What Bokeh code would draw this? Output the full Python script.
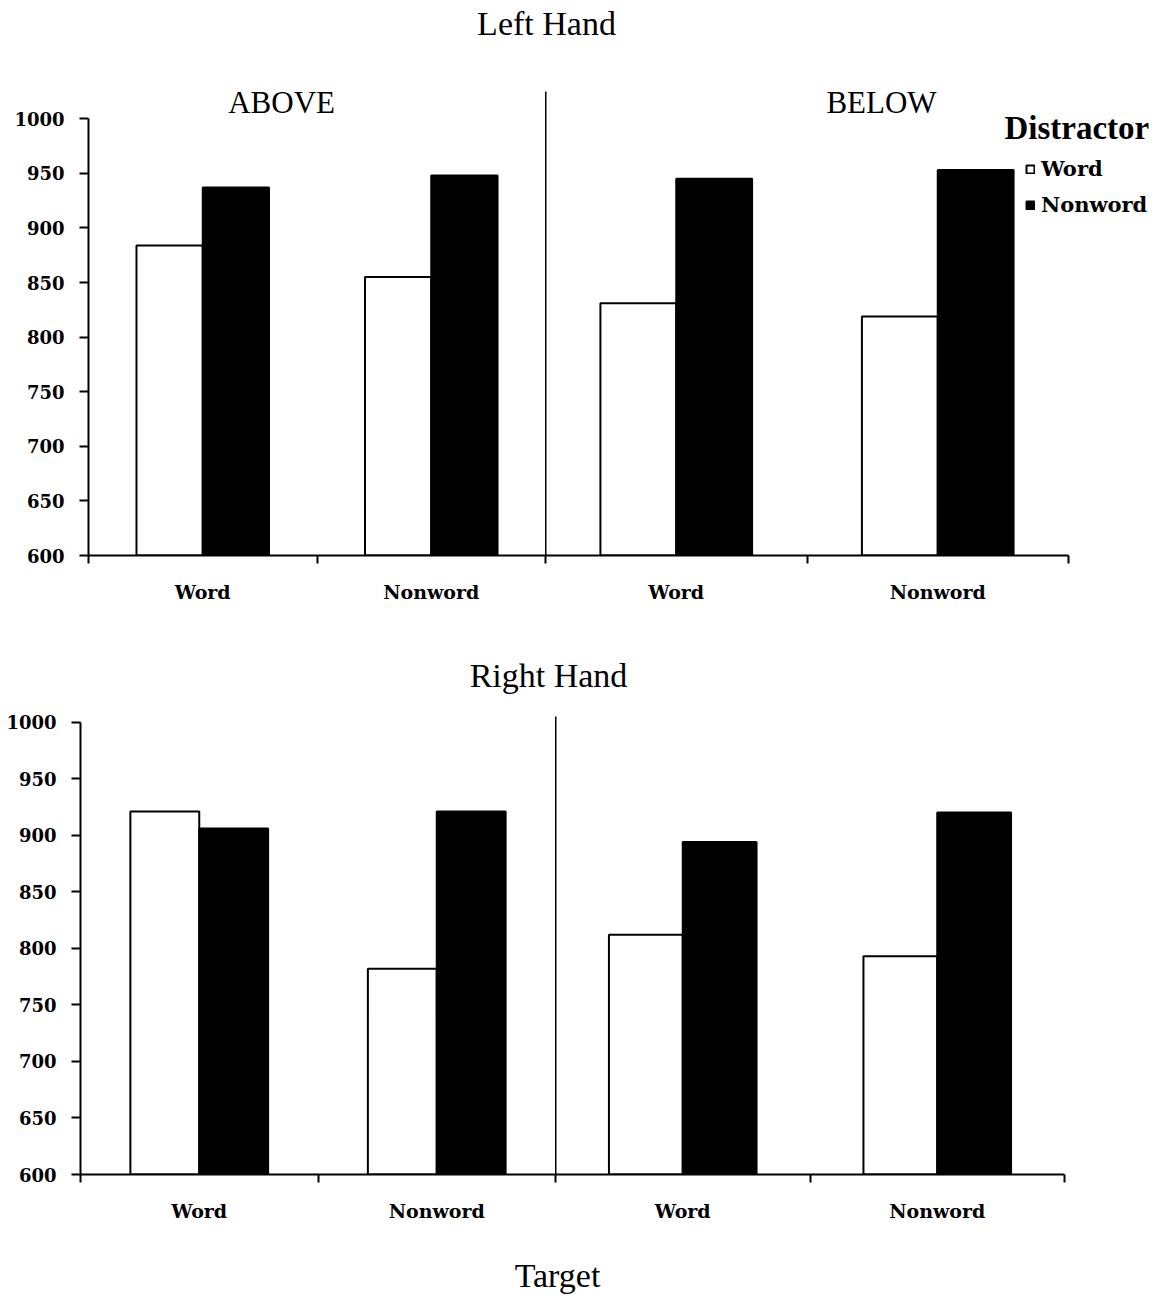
import numpy as np
from bokeh.plotting import figure
from bokeh.models import (Range1d, FixedTicker, ColumnDataSource, Legend, LegendItem, Label)
from bokeh.layouts import column, row
from bokeh.embed import file_html
from bokeh.resources import INLINE

# ---------------- data ----------------
panel_titles = ["Left Hand", "Right Hand"]
sections = ["ABOVE", "BELOW"]
targets = ["Word", "Nonword"]
distractors = ["Word", "Nonword"]
legend_title = "Distractor"
x_title = "Target"
y_ticks = [600, 650, 700, 750, 800, 850, 900, 950, 1000]

# mean values (ms) per target [Word, Nonword]
left_above_word = [884, 855]
left_above_nonword = [937, 948]
left_below_word = [831, 819]
left_below_nonword = [945, 953]
right_above_word = [921, 782]
right_above_nonword = [906, 921]
right_below_word = [812, 793]
right_below_nonword = [894, 920]

Y_MIN = 600
Y_MAX = 1000
BAR_W = 0.29

TICK_FONT = "DejaVu Serif"
SERIF = "Liberation Serif"

n = len(targets)
centers = np.arange(n) + 0.5
edges = np.arange(n + 1).astype(float)


def clean(p):
    p.outline_line_color = None
    p.background_fill_color = "white"
    p.border_fill_color = "white"
    p.grid.visible = False


def half(word, nonword, y_end, fw, extra, fh, bl, br, bt, bb, show_y):
    total_w = fw + extra
    p = figure(width=bl + total_w + br, height=bt + fh + bb,
               x_range=Range1d(0, n * total_w / fw), y_range=Range1d(Y_MIN, y_end),
               output_backend="svg", toolbar_location=None,
               x_axis_location="below", y_axis_location="left",
               min_border_left=bl, min_border_right=br,
               min_border_top=bt, min_border_bottom=bb)
    clean(p)

    xa = p.xaxis[0]
    xa.bounds = (0, n)
    xa.ticker = FixedTicker(ticks=list(centers), minor_ticks=list(edges))
    xa.major_label_overrides = {float(c): t for c, t in zip(centers, targets)}
    xa.major_tick_out = 0
    xa.major_tick_in = 0
    xa.minor_tick_out = 8
    xa.minor_tick_in = 0
    xa.minor_tick_line_width = 2
    xa.minor_tick_line_color = "black"
    xa.axis_line_width = 2
    xa.axis_line_color = "black"
    xa.major_label_standoff = 17
    xa.major_label_text_font = TICK_FONT
    xa.major_label_text_font_style = "bold"
    xa.major_label_text_font_size = "19px"
    xa.major_label_text_color = "black"

    ya = p.yaxis[0]
    ya.axis_line_width = 2
    ya.axis_line_color = "black"
    ya.minor_tick_out = 0
    ya.minor_tick_in = 0
    if show_y:
        ya.ticker = FixedTicker(ticks=y_ticks)
        ya.bounds = (Y_MIN, Y_MAX)
        ya.major_tick_out = 9
        ya.major_tick_in = 0
        ya.major_tick_line_width = 2
        ya.major_label_standoff = 15
        ya.major_label_text_font = TICK_FONT
        ya.major_label_text_font_style = "bold"
        ya.major_label_text_font_size = "18px"
        ya.major_label_text_color = "black"
    else:
        ya.ticker = FixedTicker(ticks=[])
        ya.major_tick_out = 0
        ya.major_tick_in = 0
        ya.major_label_standoff = 0
        ya.major_label_text_font_size = "0px"

    src = ColumnDataSource(dict(xw=centers - BAR_W / 2, xn=centers + BAR_W / 2,
                                word=word, nonword=nonword))
    rw = p.vbar(x="xw", top="word", bottom=Y_MIN, width=BAR_W, source=src,
                fill_color="white", line_color="black", line_width=2)
    rn = p.vbar(x="xn", top="nonword", bottom=Y_MIN, width=BAR_W, source=src,
                fill_color="black", line_color="black", line_width=2)
    return p, rw, rn


def title_fig(text, center_x, height, baseline_from_bottom, width=1160):
    p = figure(width=width, height=height, x_range=Range1d(0, width), y_range=Range1d(0, height),
               output_backend="svg", toolbar_location=None,
               x_axis_location=None, y_axis_location=None,
               min_border_left=0, min_border_right=0, min_border_top=0, min_border_bottom=0)
    clean(p)
    p.add_layout(Label(x=center_x, y=baseline_from_bottom, text=text, text_align="center",
                       text_baseline="alphabetic", text_font=SERIF, text_font_size="34px",
                       text_color="black"))
    return p


# top panel (Left Hand)
tl, _, _ = half(left_above_word, left_above_nonword, 1025, 457, 0, 464, 88, 0, 47, 101, True)
tr, trw, trn = half(left_below_word, left_below_nonword, 1025, 523, 94, 464, 0, 0, 47, 101, False)
# bottom panel (Right Hand)
bl_, _, _ = half(right_above_word, right_above_nonword, 1005, 475, 0, 458, 80, 0, 16, 76, True)
br_, _, _ = half(right_below_word, right_below_nonword, 1005, 509, 0, 458, 0, 40, 16, 76, False)

# section labels
for fig, sec, xpos in ((tl, sections[0], 0.845), (tr, sections[1], 1.285)):
    fig.add_layout(Label(x=xpos, y=1015, text=sec, text_align="center",
                         text_baseline="alphabetic", text_font=SERIF,
                         text_font_size="31px", text_color="black"))

# legend
tr.add_layout(Label(x=1.755, y=992, text=legend_title, text_align="left",
                    text_baseline="alphabetic", text_font=SERIF, text_font_style="bold",
                    text_font_size="33px", text_color="black"))
legend = Legend(items=[LegendItem(label=distractors[0], renderers=[trw]),
                       LegendItem(label=distractors[1], renderers=[trn])],
                location=(480, 338), orientation="vertical",
                background_fill_alpha=0, border_line_color=None,
                padding=0, margin=0, spacing=11, glyph_width=10, glyph_height=10,
                label_standoff=6, label_height=24,
                label_text_font=TICK_FONT, label_text_font_style="bold",
                label_text_font_size="21px", label_text_color="black")
tr.add_layout(legend)

t1 = title_fig(panel_titles[0], 546, 44, 21)
t2 = title_fig(panel_titles[1], 548, 44, 25)
t3 = title_fig(x_title, 557, 48, 23)

layout = column(t1, row(tl, tr, spacing=0), t2, row(bl_, br_, spacing=0), t3, spacing=0)

open("out.html", "w").write(file_html(layout, INLINE))
